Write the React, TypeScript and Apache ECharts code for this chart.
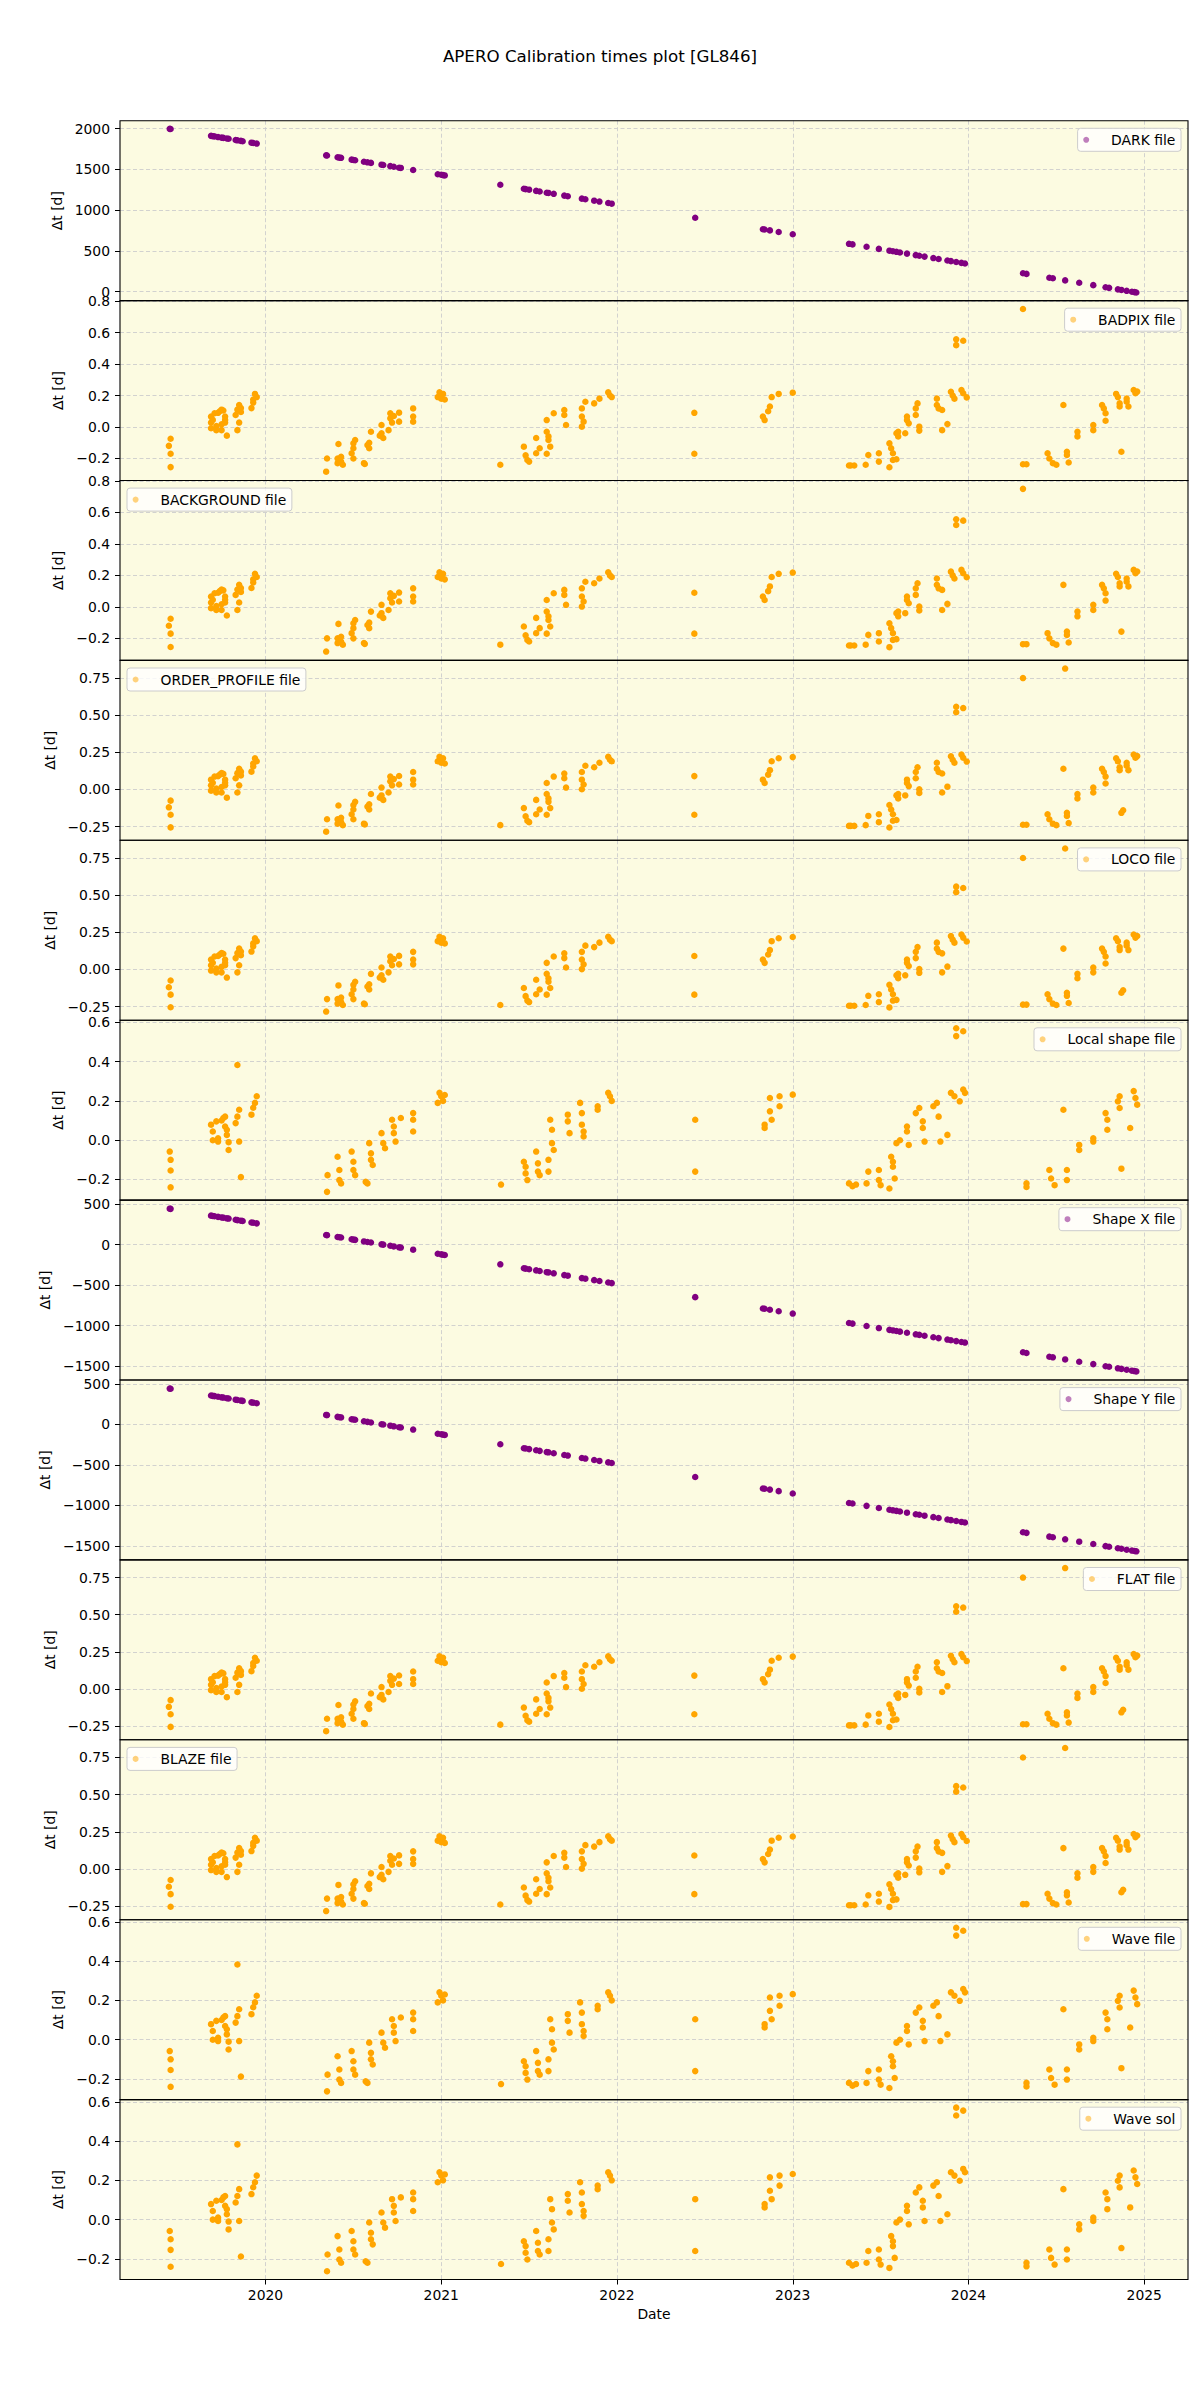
import React, { useEffect, useRef } from "react";
import * as echarts from "echarts";

// ---------------- DATA ----------------
const chartTitle = "APERO Calibration times plot [GL846]";
const panelNames = [
  "DARK file", "BADPIX file", "BACKGROUND file", "ORDER_PROFILE file", "LOCO file", "Local shape file",
  "Shape X file", "Shape Y file", "FLAT file", "BLAZE file", "Wave file", "Wave sol",
];
const yAxisName = "Δt [d]";
const xAxisName = "Date";
const xTicks = [2020, 2021, 2022, 2023, 2024, 2025];

// observation dates (decimal year) used by DARK / Shape panels
const darkDates = [
  2019.455, 2019.46, 2019.69, 2019.70, 2019.71, 2019.73, 2019.75, 2019.76, 2019.78, 2019.79, 2019.83, 2019.84, 2019.86, 2019.87, 2019.92, 2019.93, 2019.95,
  2020.345, 2020.35, 2020.41, 2020.42, 2020.43, 2020.49, 2020.50, 2020.51, 2020.56, 2020.58, 2020.60, 2020.66, 2020.67, 2020.71, 2020.73, 2020.76, 2020.77, 2020.84, 2020.98, 2021.00, 2021.01, 2021.02,
  2021.336, 2021.47, 2021.48, 2021.50, 2021.54, 2021.56, 2021.60, 2021.61, 2021.64, 2021.70, 2021.72, 2021.80, 2021.82, 2021.87, 2021.90, 2021.95, 2021.97,
  2022.445, 2022.83, 2022.84, 2022.87, 2022.92, 2023.00,
  2023.32, 2023.34, 2023.42, 2023.49, 2023.55, 2023.57, 2023.59, 2023.61, 2023.65, 2023.70, 2023.72, 2023.75, 2023.80, 2023.83, 2023.88, 2023.90, 2023.93, 2023.96, 2023.98,
  2024.31, 2024.33, 2024.46, 2024.48, 2024.55, 2024.63, 2024.71, 2024.78, 2024.80, 2024.85, 2024.87, 2024.90, 2024.93, 2024.945, 2024.955,
];
const darkDt = [
  1998, 1996, 1912, 1908, 1905, 1897, 1890, 1887, 1879, 1876, 1861, 1857, 1850, 1846, 1828, 1824, 1817,
  1673, 1671, 1649, 1645, 1642, 1620, 1616, 1613, 1594, 1587, 1580, 1558, 1554, 1540, 1532, 1521, 1518, 1492, 1441, 1434, 1430, 1426,
  1311, 1262, 1258, 1251, 1236, 1229, 1214, 1211, 1200, 1178, 1171, 1141, 1134, 1116, 1105, 1087, 1079,
  906, 765, 762, 751, 732, 703,
  586, 579, 550, 524, 502, 495, 488, 480, 466, 447, 440, 429, 411, 400, 382, 374, 363, 352, 345,
  225, 217, 170, 163, 137, 108, 79, 53, 46, 27, 20, 9, -2, -7, -11,
];
const shapeDt = [
  443, 441, 357, 353, 350, 342, 335, 332, 324, 321, 306, 302, 295, 291, 273, 269, 262,
  118, 116, 94, 90, 87, 65, 61, 58, 39, 32, 25, 3, -1, -15, -23, -34, -37, -63, -114, -121, -125, -129,
  -244, -293, -297, -304, -319, -326, -341, -344, -355, -377, -384, -414, -421, -439, -450, -468, -476,
  -649, -790, -793, -804, -823, -852,
  -969, -976, -1005, -1031, -1053, -1060, -1067, -1075, -1089, -1108, -1115, -1126, -1144, -1155, -1173, -1181, -1192, -1203, -1210,
  -1330, -1338, -1385, -1392, -1418, -1447, -1476, -1502, -1509, -1528, -1535, -1546, -1557, -1562, -1566,
];

// [date, Δt] for BADPIX / BACKGROUND (and base of ORDER_PROFILE, LOCO, FLAT, BLAZE)
const badpixPoints: [number, number][] = [
  [2019.45, -0.12], [2019.46, -0.075], [2019.46, -0.17], [2019.46, -0.255],
  [2019.69, 0.066], [2019.69, 0.028], [2019.69, -0.008], [2019.70, 0.045], [2019.71, 0.087], [2019.72, 0.006], [2019.72, -0.02], [2019.73, 0.09], [2019.74, 0.10], [2019.75, 0.11], [2019.75, 0.017], [2019.75, -0.02], [2019.76, 0.105], [2019.77, 0.066], [2019.77, 0.028], [2019.77, 0.045], [2019.78, -0.055], [2019.83, 0.076], [2019.84, 0.11], [2019.84, -0.02], [2019.85, 0.14], [2019.85, 0.028], [2019.86, 0.12], [2019.86, 0.095], [2019.92, 0.12], [2019.93, 0.155], [2019.93, 0.175], [2019.94, 0.21], [2019.95, 0.19],
  [2020.345, -0.284], [2020.35, -0.20], [2020.41, -0.20], [2020.41, -0.23], [2020.415, -0.108], [2020.43, -0.19], [2020.43, -0.22], [2020.44, -0.24], [2020.49, -0.167], [2020.50, -0.135], [2020.50, -0.104], [2020.50, -0.20], [2020.51, -0.083], [2020.56, -0.23], [2020.565, -0.235], [2020.58, -0.115], [2020.59, -0.10], [2020.59, -0.135], [2020.60, -0.03], [2020.65, -0.055], [2020.66, 0.013], [2020.66, -0.04], [2020.67, -0.07], [2020.70, -0.02], [2020.71, 0.087], [2020.71, 0.055], [2020.72, 0.028], [2020.73, 0.07], [2020.76, 0.091], [2020.76, 0.034], [2020.84, 0.118], [2020.84, 0.066], [2020.84, 0.034],
  [2020.98, 0.19], [2020.99, 0.22], [2021.00, 0.20], [2021.00, 0.18], [2021.01, 0.21], [2021.02, 0.175],
  [2021.336, -0.24],
  [2021.47, -0.125], [2021.48, -0.18], [2021.49, -0.21], [2021.50, -0.22], [2021.54, -0.07], [2021.54, -0.167], [2021.56, -0.135], [2021.60, 0.044], [2021.60, -0.03], [2021.60, -0.17], [2021.61, -0.06], [2021.61, -0.083], [2021.62, -0.125], [2021.64, 0.087], [2021.70, 0.108], [2021.70, 0.076], [2021.71, 0.013], [2021.80, 0.118], [2021.80, 0.066], [2021.80, 0.002], [2021.81, 0.034], [2021.82, 0.16], [2021.87, 0.15], [2021.90, 0.18], [2021.95, 0.22], [2021.96, 0.20], [2021.97, 0.19],
  [2022.44, 0.09], [2022.44, -0.17],
  [2022.83, 0.066], [2022.84, 0.044], [2022.86, 0.10], [2022.87, 0.13], [2022.88, 0.19], [2022.92, 0.21], [2023.00, 0.218],
  [2023.32, -0.245], [2023.33, -0.245], [2023.35, -0.245], [2023.415, -0.24], [2023.43, -0.178], [2023.49, -0.167], [2023.49, -0.22], [2023.55, -0.256], [2023.55, -0.104], [2023.56, -0.135], [2023.57, -0.167], [2023.57, -0.21], [2023.59, -0.04], [2023.59, -0.205], [2023.60, -0.03], [2023.60, -0.06], [2023.64, -0.04], [2023.65, 0.066], [2023.65, 0.044], [2023.66, 0.023], [2023.70, 0.118], [2023.70, 0.076], [2023.71, 0.15], [2023.72, 0.002], [2023.72, -0.023], [2023.82, 0.18], [2023.82, 0.14], [2023.83, 0.118], [2023.85, 0.108], [2023.85, -0.02], [2023.88, 0.019], [2023.90, 0.224], [2023.91, 0.20], [2023.92, 0.18], [2023.93, 0.52], [2023.93, 0.557], [2023.96, 0.235], [2023.97, 0.214], [2023.97, 0.548], [2023.99, 0.188],
  [2024.31, 0.75], [2024.31, -0.237], [2024.33, -0.237], [2024.45, -0.167], [2024.46, -0.20], [2024.48, -0.23], [2024.50, -0.24], [2024.54, 0.14], [2024.56, -0.157], [2024.56, -0.178], [2024.57, -0.226], [2024.62, -0.03], [2024.62, -0.06], [2024.71, -0.02], [2024.71, 0.013], [2024.76, 0.14], [2024.77, 0.118], [2024.78, 0.087], [2024.78, 0.04], [2024.84, 0.21], [2024.85, 0.19], [2024.86, 0.15], [2024.86, 0.13], [2024.87, -0.157], [2024.90, 0.18], [2024.90, 0.16], [2024.91, 0.13], [2024.94, 0.235], [2024.95, 0.214], [2024.96, 0.225],
];
// extra points seen in ORDER_PROFILE / LOCO / FLAT / BLAZE
const orderExtraPoints: [number, number][] = [[2024.55, 0.814], [2024.88, -0.14]];

// [date, Δt] for Local shape / Wave file / Wave sol
const localPoints: [number, number][] = [
  [2019.455, -0.058], [2019.46, -0.10], [2019.46, -0.154], [2019.46, -0.24],
  [2019.69, 0.079], [2019.70, 0.044], [2019.70, 0.0], [2019.72, 0.096], [2019.73, 0.01], [2019.73, -0.007], [2019.75, 0.10], [2019.76, 0.113], [2019.77, 0.12], [2019.77, 0.07], [2019.78, 0.053], [2019.78, 0.027], [2019.79, -0.01], [2019.79, -0.05], [2019.84, 0.383], [2019.83, 0.087], [2019.84, 0.12], [2019.85, 0.155], [2019.85, -0.007], [2019.86, -0.188], [2019.92, 0.13], [2019.93, 0.165], [2019.94, 0.19], [2019.95, 0.224],
  [2020.35, -0.263], [2020.353, -0.178], [2020.41, -0.084], [2020.42, -0.152], [2020.42, -0.203], [2020.43, -0.22], [2020.49, -0.058], [2020.50, -0.11], [2020.50, -0.152], [2020.51, -0.178], [2020.57, -0.212], [2020.58, -0.22], [2020.59, -0.015], [2020.60, -0.067], [2020.60, -0.10], [2020.61, -0.126], [2020.66, 0.036], [2020.67, -0.015], [2020.68, -0.041], [2020.72, 0.104], [2020.73, 0.07], [2020.73, 0.036], [2020.74, -0.007], [2020.77, 0.113], [2020.84, 0.138], [2020.84, 0.104], [2020.84, 0.044],
  [2020.98, 0.19], [2020.99, 0.241], [2021.00, 0.224], [2021.01, 0.20], [2021.02, 0.23],
  [2021.34, -0.226],
  [2021.47, -0.11], [2021.48, -0.135], [2021.48, -0.169], [2021.49, -0.203], [2021.54, -0.058], [2021.55, -0.118], [2021.55, -0.16], [2021.56, -0.178], [2021.61, -0.10], [2021.61, -0.16], [2021.62, 0.104], [2021.63, 0.053], [2021.63, -0.015], [2021.64, -0.05], [2021.72, 0.13], [2021.72, 0.096], [2021.73, 0.036], [2021.79, 0.19], [2021.80, 0.138], [2021.80, 0.079], [2021.81, 0.044], [2021.81, 0.019], [2021.89, 0.173], [2021.89, 0.155], [2021.95, 0.241], [2021.96, 0.224], [2021.97, 0.20],
  [2022.445, 0.104], [2022.445, -0.16],
  [2022.84, 0.079], [2022.84, 0.062], [2022.87, 0.215], [2022.87, 0.147], [2022.88, 0.104], [2022.925, 0.224], [2022.925, 0.173], [2023.00, 0.232],
  [2023.32, -0.22], [2023.34, -0.234], [2023.36, -0.226], [2023.42, -0.22], [2023.43, -0.16], [2023.49, -0.152], [2023.49, -0.203], [2023.50, -0.229], [2023.55, -0.246], [2023.56, -0.084], [2023.57, -0.11], [2023.57, -0.135], [2023.58, -0.195], [2023.59, -0.015], [2023.61, 0.0], [2023.65, 0.07], [2023.65, 0.044], [2023.66, -0.024], [2023.70, 0.138], [2023.72, 0.164], [2023.74, 0.096], [2023.74, 0.062], [2023.75, -0.007], [2023.80, 0.173], [2023.82, 0.19], [2023.83, 0.12], [2023.84, -0.007], [2023.88, 0.027], [2023.90, 0.241], [2023.92, 0.224], [2023.93, 0.57], [2023.93, 0.53], [2023.95, 0.198], [2023.97, 0.555], [2023.97, 0.258], [2023.98, 0.241],
  [2024.33, -0.22], [2024.33, -0.238], [2024.46, -0.152], [2024.47, -0.195], [2024.49, -0.229], [2024.54, 0.155], [2024.56, -0.152], [2024.56, -0.203], [2024.63, -0.024], [2024.63, -0.05], [2024.71, 0.01], [2024.71, -0.007], [2024.78, 0.138], [2024.79, 0.104], [2024.79, 0.053], [2024.85, 0.198], [2024.86, 0.224], [2024.86, 0.164], [2024.87, -0.145], [2024.92, 0.062], [2024.94, 0.25], [2024.95, 0.215], [2024.96, 0.181],
];

// axis limits and tick labels
const xRange = [2019.172, 2025.249];
const darkRange = [-111, 2098];
const darkTicks = [0, 500, 1000, 1500, 2000];
const badpixRange = [-0.34, 0.803];
const badpixTicks = [-0.2, 0, 0.2, 0.4, 0.6, 0.8];
const orderRange = [-0.342, 0.869];
const orderTicks = [-0.25, 0, 0.25, 0.5, 0.75];
const localRange = [-0.305, 0.611];
const localTicks = [-0.2, 0, 0.2, 0.4, 0.6];
const shapeRange = [-1672, 549];
const shapeTicks = [-1500, -1000, -500, 0, 500];

// ---------------- STYLE ----------------
const PURPLE = "#800080";
const ORANGE = "#ffa500";
const PURPLE_LEG = "rgba(128,0,128,0.5)";
const ORANGE_LEG = "rgba(255,165,0,0.5)";
const FONT = "'DejaVu Sans', sans-serif";
const FS = 13.9;
const LEFT = 120;
const RIGHT_EDGE = 1188;
const TOP0 = 120.7;
const PH = 179.9;

const zip = (xs: number[], ys: number[]) => xs.map((x, i) => [x, ys[i]]);

function fmt(dec: number, step: number) {
  return (v: number) => {
    const r = Math.round(v / step);
    if (Math.abs(v / step - r) > 1e-6) return "";
    const s = (Math.abs(v) < 1e-9 ? 0 : v).toFixed(dec);
    return s.startsWith("-") ? "\u2212" + s.slice(1) : s;
  };
}

export default function App() {
  const ref = useRef<HTMLDivElement>(null);
  useEffect(() => {
    document.body.style.margin = "0";
    if (!ref.current) return;
    const chart = echarts.init(ref.current, null, { renderer: "svg" });

    const darkData = zip(darkDates, darkDt);
    const shapeData = zip(darkDates, shapeDt);
    const orderData = (badpixPoints as number[][]).concat(orderExtraPoints);

    const D = { range: darkRange, ticks: darkTicks, dec: 0, step: 500 };
    const B = { range: badpixRange, ticks: badpixTicks, dec: 1, step: 0.2 };
    const O = { range: orderRange, ticks: orderTicks, dec: 2, step: 0.25 };
    const L = { range: localRange, ticks: localTicks, dec: 1, step: 0.2 };
    const S = { range: shapeRange, ticks: shapeTicks, dec: 0, step: 500 };

    const panels = [
      { name: panelNames[0], c: PURPLE, lc: PURPLE_LEG, data: darkData, ax: D, side: "right", gap: 53 },
      { name: panelNames[1], c: ORANGE, lc: ORANGE_LEG, data: badpixPoints, ax: B, side: "right", gap: 53 },
      { name: panelNames[2], c: ORANGE, lc: ORANGE_LEG, data: badpixPoints, ax: B, side: "left", gap: 53 },
      { name: panelNames[3], c: ORANGE, lc: ORANGE_LEG, data: orderData, ax: O, side: "left", gap: 53 },
      { name: panelNames[4], c: ORANGE, lc: ORANGE_LEG, data: orderData, ax: O, side: "right", gap: 53 },
      { name: panelNames[5], c: ORANGE, lc: ORANGE_LEG, data: localPoints, ax: L, side: "right", gap: 53 },
      { name: panelNames[6], c: PURPLE, lc: PURPLE_LEG, data: shapeData, ax: S, side: "right", gap: 65 },
      { name: panelNames[7], c: PURPLE, lc: PURPLE_LEG, data: shapeData, ax: S, side: "right", gap: 65 },
      { name: panelNames[8], c: ORANGE, lc: ORANGE_LEG, data: orderData, ax: O, side: "right", gap: 53 },
      { name: panelNames[9], c: ORANGE, lc: ORANGE_LEG, data: orderData, ax: O, side: "left", gap: 53 },
      { name: panelNames[10], c: ORANGE, lc: ORANGE_LEG, data: localPoints, ax: L, side: "right", gap: 53 },
      { name: panelNames[11], c: ORANGE, lc: ORANGE_LEG, data: localPoints, ax: L, side: "right", gap: 53 },
    ];
    const n = panels.length;
    const splitStyle = { color: "#cdcdcd", type: [4, 2.5], width: 0.9 };

    const grids = panels.map((_, i) => ({
      left: LEFT,
      width: RIGHT_EDGE - LEFT,
      top: TOP0 + i * PH,
      height: PH,
      show: true,
      backgroundColor: "#fcfbe1",
      borderWidth: 0,
      containLabel: false,
    }));

    const xAxes = panels.map((_, i) => {
      const last = i === n - 1;
      return {
        type: "value",
        gridIndex: i,
        position: "bottom",
        min: xRange[0],
        max: xRange[1],
        minInterval: 1,
        maxInterval: 1,
        axisLine: { show: false, onZero: false },
        axisTick: { show: last, customValues: xTicks, length: 5, lineStyle: { color: "#000", width: 1 } },
        axisLabel: {
          show: last,
          customValues: xTicks,
          formatter: (v: number) => (Math.abs(v - Math.round(v)) < 1e-6 ? String(Math.round(v)) : ""),
          fontSize: FS,
          fontFamily: FONT,
          color: "#000",
          margin: 8,
        },
        splitLine: { show: true, lineStyle: splitStyle },
        name: last ? xAxisName : "",
        nameLocation: "middle",
        nameGap: 27,
        nameTextStyle: { fontSize: FS, fontFamily: FONT, color: "#000" },
      };
    });

    const yAxes = panels.map((p, i) => ({
      type: "value",
      gridIndex: i,
      position: "left",
      min: p.ax.range[0],
      max: p.ax.range[1],
      minInterval: p.ax.step,
      maxInterval: p.ax.step,
      axisLine: { show: false, onZero: false },
      axisTick: { show: true, customValues: p.ax.ticks, length: 5, lineStyle: { color: "#000", width: 1 } },
      axisLabel: {
        customValues: p.ax.ticks,
        formatter: fmt(p.ax.dec, p.ax.step),
        fontSize: FS,
        fontFamily: FONT,
        color: "#000",
        margin: 10,
      },
      splitLine: { show: true, lineStyle: splitStyle },
      name: yAxisName,
      nameLocation: "middle",
      nameGap: p.gap,
      nameTextStyle: { fontSize: FS, fontFamily: FONT, color: "#000" },
    }));

    const series = panels.map((p, i) => ({
      type: "scatter",
      name: p.name,
      xAxisIndex: i,
      yAxisIndex: i,
      data: p.data,
      symbol: "circle",
      symbolSize: 6.5,
      itemStyle: { color: p.c, opacity: 1 },
      emphasis: { disabled: true },
      silent: true,
    }));

    const legends = panels.map((p, i) => {
      const pos: any = { top: TOP0 + i * PH + 7.6 };
      if (p.side === "right") pos.right = 1200 - RIGHT_EDGE + 7;
      else pos.left = LEFT + 7;
      return {
        ...pos,
        data: [{ name: p.name, itemStyle: { color: p.lc } }],
        orient: "vertical",
        icon: "circle",
        itemWidth: 27.8,
        itemHeight: 6,
        padding: [4.5, 5.6, 4.5, 5.6],
        backgroundColor: "rgba(255,255,255,0.8)",
        borderColor: "#cccccc",
        borderWidth: 1,
        borderRadius: 3,
        selectedMode: false,
        textStyle: { fontSize: FS, fontFamily: FONT, color: "#000", padding: [0, 0, 0, 6] },
      };
    });

    const borders = panels.map((_, i) => ({
      type: "rect",
      silent: true,
      z: 100,
      shape: { x: LEFT, y: TOP0 + i * PH, width: RIGHT_EDGE - LEFT, height: PH },
      style: { fill: "none", stroke: "#000", lineWidth: 1.1 },
    }));

    chart.setOption({
      animation: false,
      backgroundColor: "#ffffff",
      title: {
        text: chartTitle,
        left: "center",
        top: 47,
        padding: 0,
        textStyle: { fontSize: 16.7, fontWeight: "normal", fontFamily: FONT, color: "#000" },
      },
      grid: grids,
      xAxis: xAxes,
      yAxis: yAxes,
      legend: legends,
      series,
      graphic: borders,
    });
    return () => chart.dispose();
  }, []);
  return <div ref={ref} style={{ width: 1200, height: 2400 }} />;
}
